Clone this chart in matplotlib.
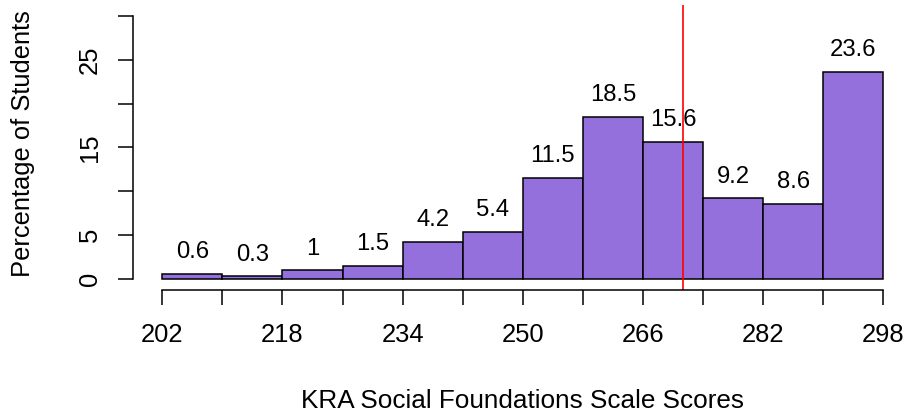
import matplotlib
matplotlib.use("Agg")
import matplotlib.pyplot as plt
import numpy as np

plt.rcParams['font.family'] = ['Liberation Sans', 'DejaVu Sans']

# Histogram data (percent of students per 8-point bin)
bin_edges = [202, 210, 218, 226, 234, 242, 250, 258, 266, 274, 282, 290, 298]
percentages = [0.6, 0.3, 1, 1.5, 4.2, 5.4, 11.5, 18.5, 15.6, 9.2, 8.6, 23.6]
cut_score = 271.4

x_ticks = [202, 210, 218, 226, 234, 242, 250, 258, 266, 274, 282, 290, 298]
x_tick_labels = ['202', '', '218', '', '234', '', '250', '', '266', '', '282', '', '298']
y_ticks = [0, 5, 10, 15, 20, 25, 30]
y_tick_labels = ['0', '5', '', '15', '', '25', '']

W, H = 909, 415
fig = plt.figure(figsize=(W / 100, H / 100), dpi=100)

# plot region in pixels (R style, extends 4% past the data range)
left_px, right_px, top_px, bottom_px = 133.3, 909, 5.3, 289.5
ax = fig.add_axes([left_px / W, 1 - bottom_px / H,
                   (right_px - left_px) / W, (bottom_px - top_px) / H])

widths = np.diff(bin_edges)
ax.bar(bin_edges[:-1], percentages, width=widths, align='edge',
       color='#9370DB', edgecolor='black', linewidth=1.1)

for left, w, v in zip(bin_edges[:-1], widths, percentages):
    ax.annotate(f"{v:g}", (left + w / 2, v), xytext=(0, 11.3),
                textcoords='offset points', ha='center', va='baseline',
                fontsize=17.2)

ax.axvline(cut_score, color='red', linewidth=1.2)

ax.set_xlim(198.14, 301.43)
ax.set_ylim(-1.2, 31.2)

for s in ['top', 'right']:
    ax.spines[s].set_visible(False)
ax.spines['left'].set_bounds(0, 30)
ax.spines['bottom'].set_bounds(202, 298)
ax.spines['left'].set_linewidth(1.1)
ax.spines['bottom'].set_linewidth(1.1)

ax.set_xticks(x_ticks)
ax.set_xticklabels(x_tick_labels, fontsize=18.4)
ax.set_yticks(y_ticks)
ax.set_yticklabels(y_tick_labels, fontsize=18.4, rotation=90, va='center')
ax.tick_params(axis='both', direction='out', length=10.8, width=1.1)
ax.tick_params(axis='x', pad=13.5)
ax.tick_params(axis='y', pad=12)

fig.text((left_px + 911) / 2 / W, 1 - 401 / H, 'KRA Social Foundations Scale Scores',
         ha='center', va='center', fontsize=18.8)
fig.text(23 / W, 1 - 144 / H, 'Percentage of Students', rotation=90,
         ha='center', va='center', fontsize=18.4)

fig.savefig('out.png', dpi=100)
